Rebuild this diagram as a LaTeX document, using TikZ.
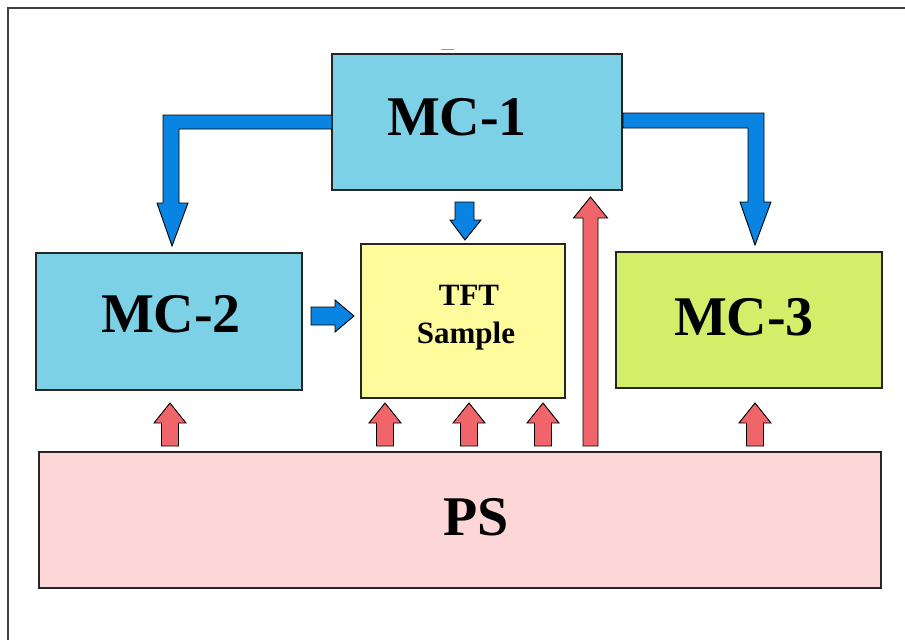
\documentclass[tikz,border=0pt]{standalone}
\usepackage{fontspec}
\setmainfont{Liberation Serif}
\begin{document}
\begin{tikzpicture}[x=1pt,y=-1pt,
  box/.style={draw=black!85,line width=1.6pt,inner sep=0pt},
  bigtxt/.style={anchor=base,inner sep=0pt,font=\fontsize{56}{60}\selectfont\bfseries},
  smalltxt/.style={anchor=base,inner sep=0pt,font=\fontsize{31}{36}\selectfont\bfseries},
  bluearrow/.style={fill=arrowblue,draw=black,line width=0.9pt,line join=miter},
  redarrow/.style={fill=arrowred,draw=black,line width=0.9pt,line join=miter}]
\definecolor{mcblue}{HTML}{7DD1E6}
\definecolor{tftyellow}{HTML}{FDFB9B}
\definecolor{mcgreen}{HTML}{D4EE6A}
\definecolor{pspink}{HTML}{FDD7D7}
\definecolor{arrowblue}{HTML}{0A84E2}
\definecolor{arrowred}{HTML}{F0656A}
\useasboundingbox (0,0) rectangle (905,640);
\fill[white] (0,0) rectangle (905,640);
% outer frame (only top and left edges fall inside the page)
\draw[black!75,line width=2pt] (8,640) -- (8,8) -- (905,8);
\draw[black!40,line width=1pt] (441,49) -- (454,49);

% blocks
\node[box,fill=mcblue,minimum width=290pt,minimum height=136pt] (mc1) at (477,122) {};
\node[box,fill=mcblue,minimum width=266pt,minimum height=137pt] (mc2) at (169,321.5) {};
\node[box,fill=tftyellow,minimum width=204pt,minimum height=154pt] (tft) at (463,321) {};
\node[box,fill=mcgreen,minimum width=266pt,minimum height=136pt] (mc3) at (749,320) {};
\node[box,fill=pspink,minimum width=842pt,minimum height=136pt] (ps) at (460,520) {};

% labels
\node[bigtxt] (mc1t) at (457,135) {MC-1};
\node[bigtxt] (mc2t) at (171,332) {MC-2};
\node[bigtxt] (mc3t) at (744,335) {MC-3};
\node[bigtxt] (pst) at (476,535) {PS};
\node[smalltxt] (tftt) at (469,305) {TFT};
\node[smalltxt] (tfts) at (466,343) {Sample};

% MC-1 to MC-2 and MC-3 (elbow block arrows)
\draw[bluearrow] (332,115) -- (163,115) -- (163,203) -- (157,203) -- (172,246)
  -- (188,203) -- (179,203) -- (179,129) -- (332,129) -- cycle;
\draw[bluearrow] (623,113) -- (764,113) -- (764,202) -- (771,202) -- (755,245)
  -- (740,202) -- (748,202) -- (748,128) -- (623,128) -- cycle;
% MC-1 to TFT sample
\draw[bluearrow] (455,202) -- (474,202) -- (474,220) -- (481,220) -- (465,240)
  -- (450,220) -- (455,220) -- cycle;
% MC-2 to TFT sample
\draw[bluearrow] (311,307) -- (335,307) -- (335,300) -- (354,316) -- (335,332)
  -- (335,325) -- (311,325) -- cycle;

% power supply feeds
\foreach \cx in {170,385,469,543,755}{
  \draw[redarrow] (\cx-8.5,446) -- (\cx-8.5,423) -- (\cx-16,423) -- (\cx,403)
    -- (\cx+16,423) -- (\cx+8.5,423) -- (\cx+8.5,446) -- cycle;
}
\draw[redarrow] (583,446) -- (583,218) -- (573.5,218) -- (590.5,197)
  -- (607.5,218) -- (598,218) -- (598,446) -- cycle;
\end{tikzpicture}
\end{document}
